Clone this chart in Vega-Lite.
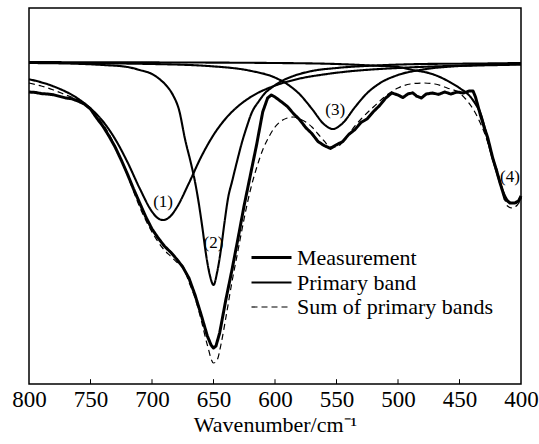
{
  "$schema": "https://vega.github.io/schema/vega-lite/v6.json",
  "width": 492,
  "height": 376,
  "autosize": {"type": "none"},
  "padding": {"left": 29, "top": 8, "right": 18, "bottom": 60},
  "background": "white",
  "config": {
    "view": {"stroke": "black", "strokeWidth": 1.5},
    "font": "Liberation Serif",
    "axis": {"labelFont": "Liberation Serif", "titleFont": "Liberation Serif"},
    "legend": {"labelFont": "Liberation Serif", "titleFont": "Liberation Serif"},
    "text": {"font": "Liberation Serif"}
  },
  "datasets": {
    "spectra": [
      {"series": "Measurement", "band": "m", "wn": 800, "v": 73}, {"series": "Measurement", "band": "m", "wn": 795, "v": 72.9}, {"series": "Measurement", "band": "m", "wn": 790, "v": 72.6}, {"series": "Measurement", "band": "m", "wn": 785, "v": 72.5}, {"series": "Measurement", "band": "m", "wn": 780, "v": 72.3}, {"series": "Measurement", "band": "m", "wn": 775, "v": 71.9}, {"series": "Measurement", "band": "m", "wn": 770, "v": 71.5}, {"series": "Measurement", "band": "m", "wn": 765, "v": 71.3}, {"series": "Measurement", "band": "m", "wn": 760, "v": 70.7}, {"series": "Measurement", "band": "m", "wn": 755, "v": 70}, {"series": "Measurement", "band": "m", "wn": 750, "v": 68.75}, {"series": "Measurement", "band": "m", "wn": 745, "v": 66.5}, {"series": "Measurement", "band": "m", "wn": 740, "v": 64.5}, {"series": "Measurement", "band": "m", "wn": 735, "v": 62}, {"series": "Measurement", "band": "m", "wn": 730, "v": 59.25}, {"series": "Measurement", "band": "m", "wn": 725, "v": 56}, {"series": "Measurement", "band": "m", "wn": 720, "v": 52.5}, {"series": "Measurement", "band": "m", "wn": 715, "v": 48.75}, {"series": "Measurement", "band": "m", "wn": 710, "v": 45.25}, {"series": "Measurement", "band": "m", "wn": 705, "v": 41.75}, {"series": "Measurement", "band": "m", "wn": 700, "v": 38.75}, {"series": "Measurement", "band": "m", "wn": 695, "v": 36.5}, {"series": "Measurement", "band": "m", "wn": 690, "v": 34.5}, {"series": "Measurement", "band": "m", "wn": 685, "v": 33}, {"series": "Measurement", "band": "m", "wn": 680, "v": 31.25}, {"series": "Measurement", "band": "m", "wn": 675, "v": 29.25}, {"series": "Measurement", "band": "m", "wn": 670, "v": 26.5}, {"series": "Measurement", "band": "m", "wn": 665, "v": 22.25}, {"series": "Measurement", "band": "m", "wn": 660, "v": 17.25}, {"series": "Measurement", "band": "m", "wn": 655, "v": 12}, {"series": "Measurement", "band": "m", "wn": 652, "v": 9.75}, {"series": "Measurement", "band": "m", "wn": 650, "v": 9}, {"series": "Measurement", "band": "m", "wn": 648, "v": 9.5}, {"series": "Measurement", "band": "m", "wn": 645, "v": 12.75}, {"series": "Measurement", "band": "m", "wn": 640, "v": 21}, {"series": "Measurement", "band": "m", "wn": 635, "v": 28.5}, {"series": "Measurement", "band": "m", "wn": 630, "v": 36.5}, {"series": "Measurement", "band": "m", "wn": 625, "v": 44.75}, {"series": "Measurement", "band": "m", "wn": 620, "v": 52.25}, {"series": "Measurement", "band": "m", "wn": 615, "v": 59.75}, {"series": "Measurement", "band": "m", "wn": 610, "v": 68}, {"series": "Measurement", "band": "m", "wn": 606, "v": 71.5}, {"series": "Measurement", "band": "m", "wn": 603, "v": 72.25}, {"series": "Measurement", "band": "m", "wn": 600, "v": 71.75}, {"series": "Measurement", "band": "m", "wn": 595, "v": 70.6}, {"series": "Measurement", "band": "m", "wn": 590, "v": 69.4}, {"series": "Measurement", "band": "m", "wn": 585, "v": 67.6}, {"series": "Measurement", "band": "m", "wn": 580, "v": 66.1}, {"series": "Measurement", "band": "m", "wn": 575, "v": 64.1}, {"series": "Measurement", "band": "m", "wn": 570, "v": 62.6}, {"series": "Measurement", "band": "m", "wn": 565, "v": 60.6}, {"series": "Measurement", "band": "m", "wn": 560, "v": 59.6}, {"series": "Measurement", "band": "m", "wn": 555, "v": 58.9}, {"series": "Measurement", "band": "m", "wn": 550, "v": 59.8}, {"series": "Measurement", "band": "m", "wn": 545, "v": 60.6}, {"series": "Measurement", "band": "m", "wn": 540, "v": 62.4}, {"series": "Measurement", "band": "m", "wn": 535, "v": 63.6}, {"series": "Measurement", "band": "m", "wn": 530, "v": 65.4}, {"series": "Measurement", "band": "m", "wn": 525, "v": 66.3}, {"series": "Measurement", "band": "m", "wn": 520, "v": 68.1}, {"series": "Measurement", "band": "m", "wn": 515, "v": 69.6}, {"series": "Measurement", "band": "m", "wn": 510, "v": 71.5}, {"series": "Measurement", "band": "m", "wn": 505, "v": 72.75}, {"series": "Measurement", "band": "m", "wn": 500, "v": 72.25}, {"series": "Measurement", "band": "m", "wn": 496, "v": 71.6}, {"series": "Measurement", "band": "m", "wn": 492, "v": 72.5}, {"series": "Measurement", "band": "m", "wn": 488, "v": 72.8}, {"series": "Measurement", "band": "m", "wn": 485, "v": 72}, {"series": "Measurement", "band": "m", "wn": 481, "v": 71.5}, {"series": "Measurement", "band": "m", "wn": 477, "v": 72.5}, {"series": "Measurement", "band": "m", "wn": 472, "v": 72.75}, {"series": "Measurement", "band": "m", "wn": 467, "v": 72.4}, {"series": "Measurement", "band": "m", "wn": 462, "v": 73}, {"series": "Measurement", "band": "m", "wn": 457, "v": 72.5}, {"series": "Measurement", "band": "m", "wn": 452, "v": 73}, {"series": "Measurement", "band": "m", "wn": 447, "v": 72.75}, {"series": "Measurement", "band": "m", "wn": 442, "v": 73.25}, {"series": "Measurement", "band": "m", "wn": 439, "v": 73.25}, {"series": "Measurement", "band": "m", "wn": 437, "v": 71.75}, {"series": "Measurement", "band": "m", "wn": 433, "v": 67.25}, {"series": "Measurement", "band": "m", "wn": 430, "v": 64.25}, {"series": "Measurement", "band": "m", "wn": 427, "v": 61.5}, {"series": "Measurement", "band": "m", "wn": 423, "v": 56.5}, {"series": "Measurement", "band": "m", "wn": 420, "v": 53.5}, {"series": "Measurement", "band": "m", "wn": 417, "v": 50.25}, {"series": "Measurement", "band": "m", "wn": 413, "v": 46.25}, {"series": "Measurement", "band": "m", "wn": 409, "v": 45.25}, {"series": "Measurement", "band": "m", "wn": 405, "v": 45.25}, {"series": "Measurement", "band": "m", "wn": 402, "v": 45.75}, {"series": "Measurement", "band": "m", "wn": 400, "v": 47},

      {"series": "Sum of primary bands", "band": "s", "wn": 800, "v": 75.25}, {"series": "Sum of primary bands", "band": "s", "wn": 790, "v": 74.5}, {"series": "Sum of primary bands", "band": "s", "wn": 780, "v": 73.5}, {"series": "Sum of primary bands", "band": "s", "wn": 770, "v": 72.25}, {"series": "Sum of primary bands", "band": "s", "wn": 760, "v": 71}, {"series": "Sum of primary bands", "band": "s", "wn": 750, "v": 68.5}, {"series": "Sum of primary bands", "band": "s", "wn": 740, "v": 65}, {"series": "Sum of primary bands", "band": "s", "wn": 730, "v": 59.5}, {"series": "Sum of primary bands", "band": "s", "wn": 720, "v": 52.25}, {"series": "Sum of primary bands", "band": "s", "wn": 710, "v": 44.25}, {"series": "Sum of primary bands", "band": "s", "wn": 700, "v": 38}, {"series": "Sum of primary bands", "band": "s", "wn": 690, "v": 33.5}, {"series": "Sum of primary bands", "band": "s", "wn": 685, "v": 32}, {"series": "Sum of primary bands", "band": "s", "wn": 680, "v": 30.5}, {"series": "Sum of primary bands", "band": "s", "wn": 675, "v": 29.5}, {"series": "Sum of primary bands", "band": "s", "wn": 670, "v": 25.5}, {"series": "Sum of primary bands", "band": "s", "wn": 665, "v": 21.5}, {"series": "Sum of primary bands", "band": "s", "wn": 660, "v": 16}, {"series": "Sum of primary bands", "band": "s", "wn": 655, "v": 9.75}, {"series": "Sum of primary bands", "band": "s", "wn": 650, "v": 5.25}, {"series": "Sum of primary bands", "band": "s", "wn": 647, "v": 6}, {"series": "Sum of primary bands", "band": "s", "wn": 644, "v": 9.75}, {"series": "Sum of primary bands", "band": "s", "wn": 640, "v": 16.5}, {"series": "Sum of primary bands", "band": "s", "wn": 635, "v": 25.5}, {"series": "Sum of primary bands", "band": "s", "wn": 630, "v": 33.5}, {"series": "Sum of primary bands", "band": "s", "wn": 625, "v": 41.5}, {"series": "Sum of primary bands", "band": "s", "wn": 620, "v": 48.5}, {"series": "Sum of primary bands", "band": "s", "wn": 615, "v": 54}, {"series": "Sum of primary bands", "band": "s", "wn": 610, "v": 58.5}, {"series": "Sum of primary bands", "band": "s", "wn": 605, "v": 61.75}, {"series": "Sum of primary bands", "band": "s", "wn": 600, "v": 64.25}, {"series": "Sum of primary bands", "band": "s", "wn": 595, "v": 65.75}, {"series": "Sum of primary bands", "band": "s", "wn": 590, "v": 66.5}, {"series": "Sum of primary bands", "band": "s", "wn": 585, "v": 66.75}, {"series": "Sum of primary bands", "band": "s", "wn": 580, "v": 66.25}, {"series": "Sum of primary bands", "band": "s", "wn": 575, "v": 65.5}, {"series": "Sum of primary bands", "band": "s", "wn": 570, "v": 64.25}, {"series": "Sum of primary bands", "band": "s", "wn": 565, "v": 62.5}, {"series": "Sum of primary bands", "band": "s", "wn": 560, "v": 60.75}, {"series": "Sum of primary bands", "band": "s", "wn": 555, "v": 59.25}, {"series": "Sum of primary bands", "band": "s", "wn": 550, "v": 59.25}, {"series": "Sum of primary bands", "band": "s", "wn": 545, "v": 60.5}, {"series": "Sum of primary bands", "band": "s", "wn": 540, "v": 62.5}, {"series": "Sum of primary bands", "band": "s", "wn": 535, "v": 64.5}, {"series": "Sum of primary bands", "band": "s", "wn": 530, "v": 66.25}, {"series": "Sum of primary bands", "band": "s", "wn": 520, "v": 69.25}, {"series": "Sum of primary bands", "band": "s", "wn": 510, "v": 72}, {"series": "Sum of primary bands", "band": "s", "wn": 500, "v": 74}, {"series": "Sum of primary bands", "band": "s", "wn": 490, "v": 75}, {"series": "Sum of primary bands", "band": "s", "wn": 480, "v": 75.25}, {"series": "Sum of primary bands", "band": "s", "wn": 470, "v": 75}, {"series": "Sum of primary bands", "band": "s", "wn": 460, "v": 74}, {"series": "Sum of primary bands", "band": "s", "wn": 450, "v": 72.75}, {"series": "Sum of primary bands", "band": "s", "wn": 445, "v": 71.25}, {"series": "Sum of primary bands", "band": "s", "wn": 440, "v": 69.25}, {"series": "Sum of primary bands", "band": "s", "wn": 435, "v": 66.5}, {"series": "Sum of primary bands", "band": "s", "wn": 430, "v": 63}, {"series": "Sum of primary bands", "band": "s", "wn": 425, "v": 58.5}, {"series": "Sum of primary bands", "band": "s", "wn": 420, "v": 54}, {"series": "Sum of primary bands", "band": "s", "wn": 415, "v": 48.5}, {"series": "Sum of primary bands", "band": "s", "wn": 411, "v": 44.5}, {"series": "Sum of primary bands", "band": "s", "wn": 407, "v": 44}, {"series": "Sum of primary bands", "band": "s", "wn": 403, "v": 44.75}, {"series": "Sum of primary bands", "band": "s", "wn": 400, "v": 46},

      {"series": "Primary band", "band": "1", "wn": 800, "v": 76.2}, {"series": "Primary band", "band": "1", "wn": 780, "v": 74.4}, {"series": "Primary band", "band": "1", "wn": 760, "v": 71.3}, {"series": "Primary band", "band": "1", "wn": 750, "v": 68.9}, {"series": "Primary band", "band": "1", "wn": 740, "v": 65.7}, {"series": "Primary band", "band": "1", "wn": 730, "v": 61.25}, {"series": "Primary band", "band": "1", "wn": 720, "v": 55.5}, {"series": "Primary band", "band": "1", "wn": 710, "v": 48.9}, {"series": "Primary band", "band": "1", "wn": 700, "v": 43.1}, {"series": "Primary band", "band": "1", "wn": 695, "v": 41.4}, {"series": "Primary band", "band": "1", "wn": 691, "v": 41}, {"series": "Primary band", "band": "1", "wn": 685, "v": 41.95}, {"series": "Primary band", "band": "1", "wn": 680, "v": 44.05}, {"series": "Primary band", "band": "1", "wn": 670, "v": 50.2}, {"series": "Primary band", "band": "1", "wn": 660, "v": 56.8}, {"series": "Primary band", "band": "1", "wn": 650, "v": 62.25}, {"series": "Primary band", "band": "1", "wn": 640, "v": 66.4}, {"series": "Primary band", "band": "1", "wn": 630, "v": 69.45}, {"series": "Primary band", "band": "1", "wn": 620, "v": 71.7}, {"series": "Primary band", "band": "1", "wn": 600, "v": 74.6}, {"series": "Primary band", "band": "1", "wn": 580, "v": 76.35}, {"series": "Primary band", "band": "1", "wn": 560, "v": 77.4}, {"series": "Primary band", "band": "1", "wn": 540, "v": 78.15}, {"series": "Primary band", "band": "1", "wn": 520, "v": 78.65}, {"series": "Primary band", "band": "1", "wn": 500, "v": 79}, {"series": "Primary band", "band": "1", "wn": 470, "v": 79.4}, {"series": "Primary band", "band": "1", "wn": 440, "v": 79.6}, {"series": "Primary band", "band": "1", "wn": 400, "v": 79.85},

      {"series": "Primary band", "band": "2", "wn": 800, "v": 80.25}, {"series": "Primary band", "band": "2", "wn": 760, "v": 80.05}, {"series": "Primary band", "band": "2", "wn": 740, "v": 79.75}, {"series": "Primary band", "band": "2", "wn": 720, "v": 79.25}, {"series": "Primary band", "band": "2", "wn": 710, "v": 78.5}, {"series": "Primary band", "band": "2", "wn": 700, "v": 77.5}, {"series": "Primary band", "band": "2", "wn": 693, "v": 76}, {"series": "Primary band", "band": "2", "wn": 688, "v": 74.5}, {"series": "Primary band", "band": "2", "wn": 683, "v": 72.25}, {"series": "Primary band", "band": "2", "wn": 678, "v": 68.5}, {"series": "Primary band", "band": "2", "wn": 673, "v": 61}, {"series": "Primary band", "band": "2", "wn": 668, "v": 54.75}, {"series": "Primary band", "band": "2", "wn": 665, "v": 50.5}, {"series": "Primary band", "band": "2", "wn": 662, "v": 45.25}, {"series": "Primary band", "band": "2", "wn": 659, "v": 39}, {"series": "Primary band", "band": "2", "wn": 656, "v": 32.25}, {"series": "Primary band", "band": "2", "wn": 653, "v": 27.25}, {"series": "Primary band", "band": "2", "wn": 650, "v": 24.75}, {"series": "Primary band", "band": "2", "wn": 647, "v": 28}, {"series": "Primary band", "band": "2", "wn": 644, "v": 33.5}, {"series": "Primary band", "band": "2", "wn": 641, "v": 40.5}, {"series": "Primary band", "band": "2", "wn": 638, "v": 46.75}, {"series": "Primary band", "band": "2", "wn": 635, "v": 50.5}, {"series": "Primary band", "band": "2", "wn": 631, "v": 55.5}, {"series": "Primary band", "band": "2", "wn": 627, "v": 60.25}, {"series": "Primary band", "band": "2", "wn": 623, "v": 64.25}, {"series": "Primary band", "band": "2", "wn": 619, "v": 67.75}, {"series": "Primary band", "band": "2", "wn": 613, "v": 70.75}, {"series": "Primary band", "band": "2", "wn": 608, "v": 72.75}, {"series": "Primary band", "band": "2", "wn": 602, "v": 74.25}, {"series": "Primary band", "band": "2", "wn": 596, "v": 75.5}, {"series": "Primary band", "band": "2", "wn": 585, "v": 77}, {"series": "Primary band", "band": "2", "wn": 570, "v": 78.25}, {"series": "Primary band", "band": "2", "wn": 550, "v": 79}, {"series": "Primary band", "band": "2", "wn": 520, "v": 79.6}, {"series": "Primary band", "band": "2", "wn": 480, "v": 80}, {"series": "Primary band", "band": "2", "wn": 440, "v": 80.1}, {"series": "Primary band", "band": "2", "wn": 400, "v": 80.25},

      {"series": "Primary band", "band": "3", "wn": 800, "v": 80.3}, {"series": "Primary band", "band": "3", "wn": 700, "v": 80}, {"series": "Primary band", "band": "3", "wn": 650, "v": 79.4}, {"series": "Primary band", "band": "3", "wn": 620, "v": 78.3}, {"series": "Primary band", "band": "3", "wn": 600, "v": 76.6}, {"series": "Primary band", "band": "3", "wn": 590, "v": 74.95}, {"series": "Primary band", "band": "3", "wn": 580, "v": 72.45}, {"series": "Primary band", "band": "3", "wn": 570, "v": 68.8}, {"series": "Primary band", "band": "3", "wn": 560, "v": 64.9}, {"series": "Primary band", "band": "3", "wn": 553, "v": 63.75}, {"series": "Primary band", "band": "3", "wn": 545, "v": 65.2}, {"series": "Primary band", "band": "3", "wn": 535, "v": 69.2}, {"series": "Primary band", "band": "3", "wn": 525, "v": 72.75}, {"series": "Primary band", "band": "3", "wn": 515, "v": 75.15}, {"series": "Primary band", "band": "3", "wn": 500, "v": 77.25}, {"series": "Primary band", "band": "3", "wn": 480, "v": 78.6}, {"series": "Primary band", "band": "3", "wn": 450, "v": 79.5}, {"series": "Primary band", "band": "3", "wn": 400, "v": 80},

      {"series": "Primary band", "band": "4", "wn": 800, "v": 80.47}, {"series": "Primary band", "band": "4", "wn": 700, "v": 80.4}, {"series": "Primary band", "band": "4", "wn": 600, "v": 80.25}, {"series": "Primary band", "band": "4", "wn": 550, "v": 80}, {"series": "Primary band", "band": "4", "wn": 520, "v": 79.6}, {"series": "Primary band", "band": "4", "wn": 500, "v": 79.25}, {"series": "Primary band", "band": "4", "wn": 488, "v": 78.5}, {"series": "Primary band", "band": "4", "wn": 475, "v": 77.75}, {"series": "Primary band", "band": "4", "wn": 466, "v": 76.75}, {"series": "Primary band", "band": "4", "wn": 458, "v": 75.5}, {"series": "Primary band", "band": "4", "wn": 450, "v": 74}, {"series": "Primary band", "band": "4", "wn": 441, "v": 71.75}, {"series": "Primary band", "band": "4", "wn": 437, "v": 70}, {"series": "Primary band", "band": "4", "wn": 433, "v": 67.75}, {"series": "Primary band", "band": "4", "wn": 429, "v": 63.5}, {"series": "Primary band", "band": "4", "wn": 425, "v": 58.5}, {"series": "Primary band", "band": "4", "wn": 421, "v": 54.25}, {"series": "Primary band", "band": "4", "wn": 417, "v": 50.25}, {"series": "Primary band", "band": "4", "wn": 414, "v": 47.75}, {"series": "Primary band", "band": "4", "wn": 411, "v": 46}, {"series": "Primary band", "band": "4", "wn": 408, "v": 45.25}, {"series": "Primary band", "band": "4", "wn": 405, "v": 45.25}, {"series": "Primary band", "band": "4", "wn": 402, "v": 45.75}, {"series": "Primary band", "band": "4", "wn": 400, "v": 46.5}
    ],
    "bandLabels": [
      {"label": "(1)", "wn": 691, "v": 45.5},
      {"label": "(2)", "wn": 650, "v": 35.25},
      {"label": "(3)", "wn": 551, "v": 68.5},
      {"label": "(4)", "wn": 409, "v": 51.75}
    ],
    "tickMarks": [
      {"wn": 750, "v0": 0, "v1": 1.2}, {"wn": 700, "v0": 0, "v1": 1.2}, {"wn": 650, "v0": 0, "v1": 1.2},
      {"wn": 600, "v0": 0, "v1": 1.2}, {"wn": 550, "v0": 0, "v1": 1.2}, {"wn": 500, "v0": 0, "v1": 1.2},
      {"wn": 450, "v0": 0, "v1": 1.2}
    ]
  },
  "encoding": {
    "x": {
      "field": "wn",
      "type": "quantitative",
      "title": "Wavenumber/cm⁻¹",
      "scale": {"domain": [400, 800], "reverse": true, "nice": false, "zero": false},
      "axis": {
        "values": [800, 750, 700, 650, 600, 550, 500, 450, 400],
        "grid": false,
        "domain": false,
        "ticks": false,
        "labelFont": "Liberation Serif",
        "labelFontSize": 23,
        "labelColor": "black",
        "labelPadding": 4,
        "labelFlush": false,
        "labelOverlap": false,
        "titleFont": "Liberation Serif",
        "titleFontSize": 22,
        "titleFontWeight": "normal",
        "titleColor": "black",
        "titlePadding": 3
      }
    },
    "y": {
      "field": "v",
      "type": "quantitative",
      "scale": {"domain": [0, 94], "nice": false, "zero": false},
      "axis": null
    }
  },
  "layer": [
    {
      "data": {"name": "tickMarks"},
      "mark": {"type": "rule", "color": "black", "strokeWidth": 1},
      "encoding": {
        "y": {"field": "v0", "type": "quantitative"},
        "y2": {"field": "v1"}
      }
    },
    {
      "data": {"name": "spectra"},
      "transform": [{"filter": "datum.series === 'Primary band'"}],
      "mark": {"type": "line", "color": "black", "interpolate": "monotone"},
      "encoding": {
        "detail": {"field": "band", "type": "nominal"},
        "strokeDash": {
          "field": "series", "type": "nominal",
          "scale": {"domain": ["Measurement", "Primary band", "Sum of primary bands"], "range": [[1, 0], [1, 0], [6, 4]]},
          "legend": {
            "orient": "none", "legendX": 231, "legendY": 238, "title": null,
            "symbolType": "M-2,0H2", "symbolSize": 400, "symbolStrokeColor": "black",
            "labelFont": "Liberation Serif", "labelFontSize": 22, "labelColor": "black",
            "labelLimit": 400, "labelOffset": 14, "rowPadding": 2
          }
        },
        "strokeWidth": {
          "field": "series", "type": "nominal",
          "scale": {"domain": ["Measurement", "Primary band", "Sum of primary bands"], "range": [3, 1.2, 2]},
          "legend": {
            "orient": "none", "legendX": 231, "legendY": 238, "title": null,
            "symbolType": "M-2,0H2", "symbolSize": 400, "symbolStrokeColor": "black",
            "labelFont": "Liberation Serif", "labelFontSize": 22, "labelColor": "black",
            "labelLimit": 400, "labelOffset": 14, "rowPadding": 2
          }
        }
      }
    },
    {
      "data": {"name": "spectra"},
      "transform": [{"filter": "datum.series === 'Sum of primary bands'"}],
      "mark": {"type": "line", "color": "black", "interpolate": "monotone"},
      "encoding": {
        "strokeDash": {"field": "series", "type": "nominal"},
        "strokeWidth": {"field": "series", "type": "nominal"}
      }
    },
    {
      "data": {"name": "spectra"},
      "transform": [{"filter": "datum.series === 'Measurement'"}],
      "mark": {"type": "line", "color": "black", "interpolate": "linear", "strokeJoin": "round"},
      "encoding": {
        "strokeDash": {"field": "series", "type": "nominal"},
        "strokeWidth": {"field": "series", "type": "nominal"}
      }
    },
    {
      "data": {"name": "bandLabels"},
      "mark": {"type": "text", "font": "Liberation Serif", "fontSize": 17, "color": "black", "align": "center", "baseline": "middle"},
      "encoding": {
        "text": {"field": "label", "type": "nominal"}
      }
    }
  ]
}
